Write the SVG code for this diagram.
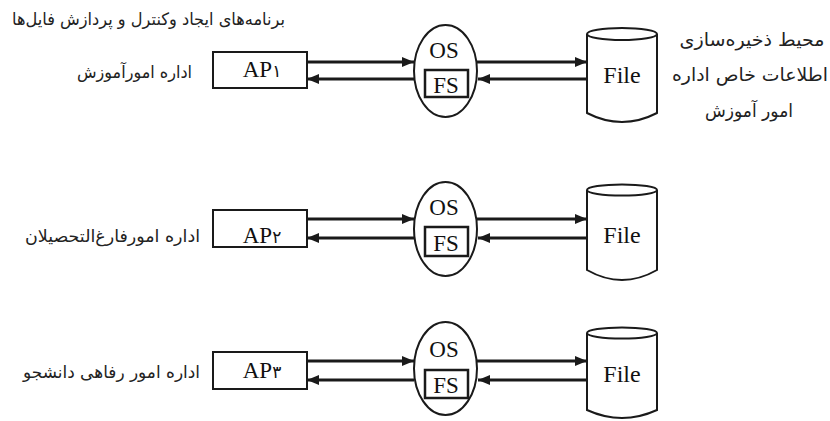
<svg xmlns="http://www.w3.org/2000/svg" width="830" height="421" viewBox="0 0 830 421">
<style>
.ln{stroke:#1a1a1a;stroke-width:3;fill:none}
.sh{stroke:#1a1a1a;stroke-width:2;fill:#fff}
.lat{font-family:"Liberation Serif","Times New Roman",serif;font-size:23px;fill:#111;text-anchor:middle}
.dg{font-family:"DejaVu Sans",sans-serif;font-size:17px}
.fa{font-family:"DejaVu Sans","Noto Sans",sans-serif;font-size:17px;fill:#222}
.nt{font-size:18px;text-anchor:middle}
</style>
<defs>
<marker id="ah" viewBox="0 0 12 10" refX="12" refY="5" markerWidth="12" markerHeight="10" markerUnits="userSpaceOnUse" orient="auto">
<path d="M0,0 L12,5 L0,10 Z" fill="#1a1a1a"/>
</marker>
</defs>
<rect width="830" height="421" fill="#fff"/>
<text class="fa" x="285" y="25" text-anchor="end" textLength="273" lengthAdjust="spacingAndGlyphs">برنامه‌های ایجاد وکنترل و پردازش فایل‌ها</text>
<g id="note">
<text class="fa nt" x="752" y="46" textLength="145" lengthAdjust="spacingAndGlyphs">محیط ذخیره‌سازی</text>
<text class="fa nt" x="750" y="81" textLength="156" lengthAdjust="spacingAndGlyphs">اطلاعات خاص اداره</text>
<text class="fa nt" x="749" y="117" textLength="88" lengthAdjust="spacingAndGlyphs">امور آموزش</text>
</g>
<g id="label1"><text class="fa" x="192" y="78" text-anchor="end" textLength="115" lengthAdjust="spacingAndGlyphs">اداره امورآموزش</text></g>
<g id="label2"><text class="fa" x="200" y="242" text-anchor="end" textLength="175" lengthAdjust="spacingAndGlyphs">اداره امورفارغ‌التحصیلان</text></g>
<g id="label3"><text class="fa" x="200" y="378" text-anchor="end" textLength="177" lengthAdjust="spacingAndGlyphs">اداره امور رفاهی دانشجو</text></g>

<g id="ap1"><rect class="sh" x="213" y="52" width="94" height="36"/><text class="lat" x="262" y="77">AP<tspan class="dg">۱</tspan></text></g>
<g id="ap2"><rect class="sh" x="213" y="210" width="94" height="37"/><text class="lat" x="262" y="243">AP<tspan class="dg">۲</tspan></text></g>
<g id="ap3"><rect class="sh" x="213" y="352" width="94" height="37"/><text class="lat" x="262" y="378">AP<tspan class="dg">۳</tspan></text></g>

<g id="os1"><ellipse class="sh" cx="445.5" cy="71" rx="31.5" ry="46"/><text class="lat" x="444" y="58">OS</text><rect x="425" y="70" width="43" height="27" fill="#fff" stroke="#1a1a1a" stroke-width="2.5"/><text class="lat" x="446" y="93">FS</text></g>
<g id="os2"><ellipse class="sh" cx="445.5" cy="229" rx="31.5" ry="47"/><text class="lat" x="444" y="215">OS</text><rect x="425" y="227" width="43" height="29" fill="#fff" stroke="#1a1a1a" stroke-width="2.5"/><text class="lat" x="446" y="251">FS</text></g>
<g id="os3"><ellipse class="sh" cx="445.5" cy="368.5" rx="31.5" ry="46.5"/><text class="lat" x="444" y="357">OS</text><rect x="425" y="370" width="43" height="28" fill="#fff" stroke="#1a1a1a" stroke-width="2.5"/><text class="lat" x="446" y="393">FS</text></g>

<g id="file1"><path class="sh" d="M587,34 L587,113 Q622,131 657,113 L657,34"/><ellipse class="sh" cx="622" cy="34" rx="35" ry="6"/><text class="lat" x="622" y="83" style="font-size:24px">File</text></g>
<g id="file2"><path class="sh" d="M587,190 L587,270 Q622,290 657,270 L657,190"/><ellipse class="sh" cx="622" cy="190" rx="35" ry="5.5"/><text class="lat" x="622" y="243" style="font-size:24px">File</text></g>
<g id="file3"><path class="sh" d="M587,333 L587,410 Q622,426 657,410 L657,333"/><ellipse class="sh" cx="622" cy="333" rx="35" ry="5.5"/><text class="lat" x="622" y="382" style="font-size:24px">File</text></g>

<g id="connectors">
<line class="ln" x1="307" y1="62" x2="414" y2="62" marker-end="url(#ah)"/>
<line class="ln" x1="414" y1="79" x2="307" y2="79" marker-end="url(#ah)"/>
<line class="ln" x1="477" y1="62" x2="587" y2="62" marker-end="url(#ah)"/>
<line class="ln" x1="587" y1="79" x2="478" y2="79" marker-end="url(#ah)"/>
<line class="ln" x1="307" y1="219" x2="414" y2="219" marker-end="url(#ah)"/>
<line class="ln" x1="414" y1="238" x2="307" y2="238" marker-end="url(#ah)"/>
<line class="ln" x1="477" y1="219" x2="587" y2="219" marker-end="url(#ah)"/>
<line class="ln" x1="587" y1="238" x2="478" y2="238" marker-end="url(#ah)"/>
<line class="ln" x1="307" y1="361" x2="414" y2="361" marker-end="url(#ah)"/>
<line class="ln" x1="414" y1="380" x2="307" y2="380" marker-end="url(#ah)"/>
<line class="ln" x1="477" y1="361" x2="587" y2="361" marker-end="url(#ah)"/>
<line class="ln" x1="587" y1="380" x2="478" y2="380" marker-end="url(#ah)"/>
</g>
</svg>
